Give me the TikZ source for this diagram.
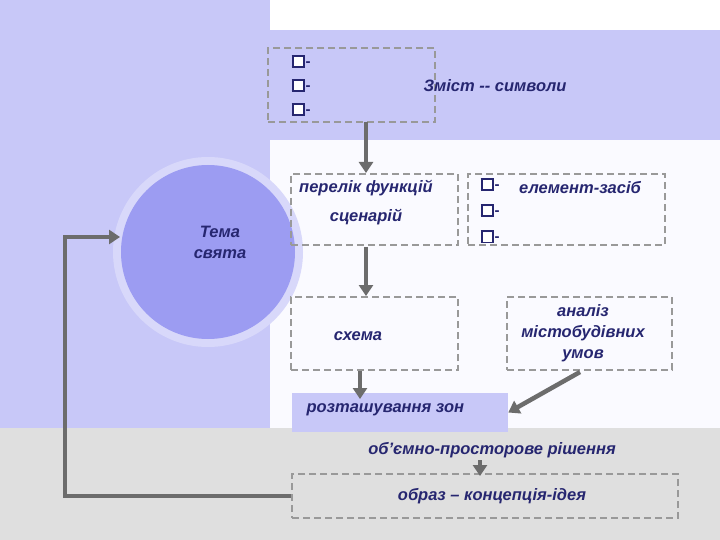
\documentclass[tikz,border=0pt]{standalone}
\usepackage{fontspec}
\setmainfont{Liberation Sans}
\usetikzlibrary{arrows.meta}
\definecolor{lav}{HTML}{C8C8F8}
\definecolor{navy}{HTML}{262670}
\definecolor{circ}{HTML}{9C9CF2}
\newcommand{\bxq}{{\setlength{\fboxsep}{0pt}\setlength{\fboxrule}{2pt}\fcolorbox{navy}{white}{\rule{0pt}{9pt}\rule{9pt}{0pt}}}}
\begin{document}
\begin{tikzpicture}[x=1pt,y=-1pt,
  dbox/.style={draw=gray!80,dashed,dash pattern=on 7pt off 4pt,line width=1.2pt,inner sep=0},
  lbl/.style={text=navy,font=\fontsize{16.5}{21}\selectfont\bfseries\itshape,align=center},
  arr/.style={draw=gray!85!black,line width=4.5pt,-{Triangle[length=11pt,width=14pt]}},
  bul/.style={text=navy,font=\fontsize{15}{18}\selectfont\bfseries}]
\useasboundingbox (0,0) rectangle (720,540);
\fill[white] (0,0) rectangle (720,540);
\fill[lav] (0,0) rectangle (270,428);
\fill[lav] (270,30) rectangle (720,140);
\fill[white!95!blue!40] (270,140) rectangle (720,428);
\fill[gray!25] (0,428) rectangle (720,540);
\fill[lav!70!white] (208,252) circle (95);
\fill[circ] (208,252) circle (87);
\node[lbl] (tema) at (220,242) {Тема\\свята};
% boxes
\node[dbox,minimum width=167,minimum height=74] (zm) at (351.5,85) {};
\node[dbox,minimum width=167,minimum height=71] (pf) at (374.5,209.5) {};
\node[dbox,minimum width=197,minimum height=71] (el) at (566.5,209.5) {};
\node[dbox,minimum width=167,minimum height=73] (sx) at (374.5,333.5) {};
\node[dbox,minimum width=165,minimum height=73] (an) at (589.5,333.5) {};
\node[fill=lav,minimum width=216,minimum height=39,inner sep=0] (rz) at (400,412.5) {};
\node[dbox,minimum width=386,minimum height=44] (ob) at (485,496) {};
% texts
\foreach \yy/\n in {62/a,86/b,110/c}{\node[bul] (q\n) at (301,\yy) {\bxq\kern1pt-};}
\node[lbl] (t1) at (495,86) {Зміст -{}- символи};
\node[lbl] (t2) at (366,188) {перелік функцій};
\node[lbl] (t3) at (366,217) {сценарій};
\foreach \yy/\n in {185/d,211/e,237/f}{\node[bul] (q\n) at (490,\yy) {\bxq\kern1pt-};}
\node[lbl] (t4) at (580,188) {елемент-засіб};
\node[lbl] (t5) at (358,336) {схема};
\node[lbl] (t6) at (583,333) {аналіз\\містобудівних\\умов};
\node[lbl,anchor=west] (t7) at (303,410) {розташування зон};
\node[lbl] (t8) at (492,450) {об’ємно-просторове рішення};
\node[lbl] (t9) at (492,496) {образ – концепція-ідея};
% arrows
\draw[arr] (366,122) -- (366,173);
\draw[arr] (366,247) -- (366,296);
\draw[arr] (360,371) -- (360,399);
\coordinate (a1) at (580,372);
\draw[arr] (a1) -- (rz.east);
\draw[arr] (480,460) -- (480,476);
\draw[arr] (ob.west) -- (65,496) -- (65,237) -- (120,237);
\end{tikzpicture}
\end{document}
